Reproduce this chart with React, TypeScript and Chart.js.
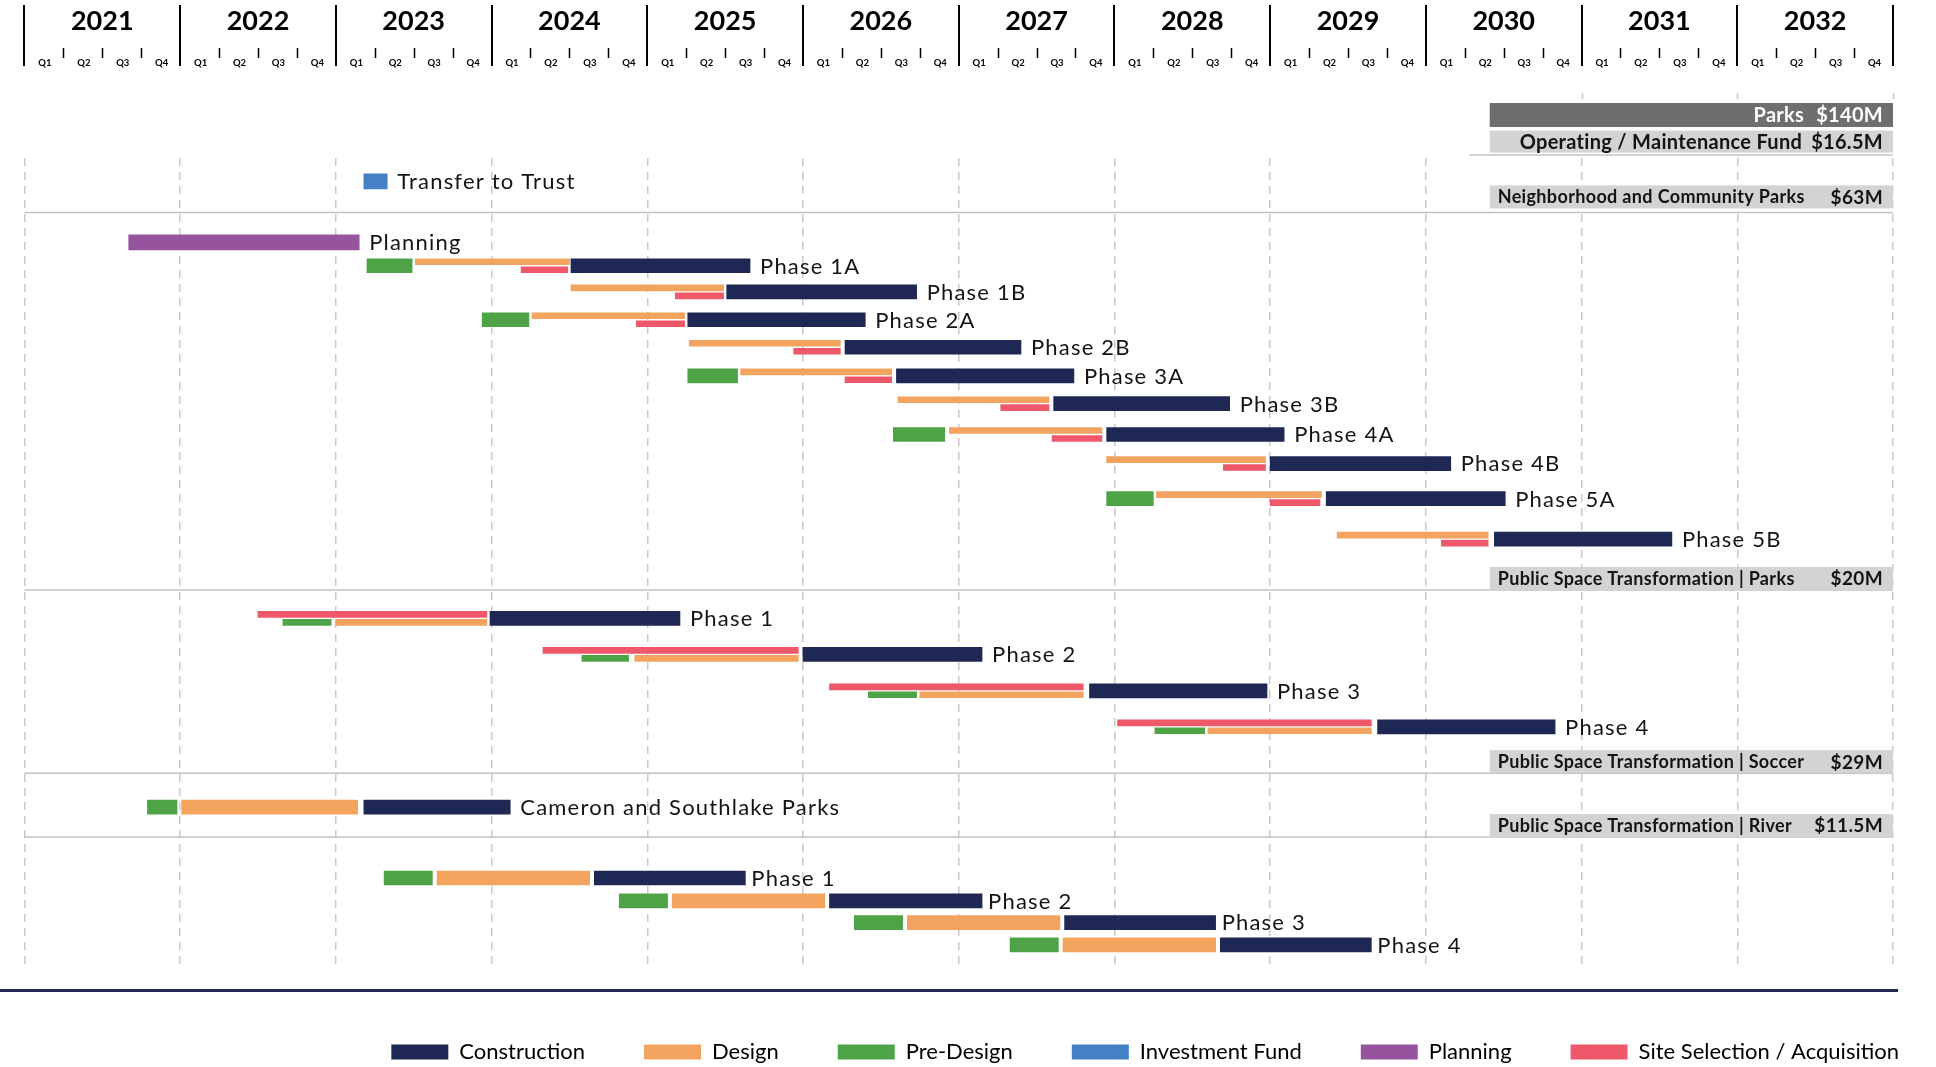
import React, { useEffect, useRef } from 'react';
import { Chart, registerables } from 'chart.js';

Chart.register(...registerables);

// ---------- tick labels ----------
const YEARS = ['2021', '2022', '2023', '2024', '2025', '2026', '2027', '2028', '2029', '2030', '2031', '2032'];
const QUARTERS = ['Q1', 'Q2', 'Q3', 'Q4'];

// ---------- rows ----------
const ROW_LABELS = [
  'Transfer to Trust', 'Planning',
  'Phase 1A', 'Phase 1B', 'Phase 2A', 'Phase 2B', 'Phase 3A', 'Phase 3B', 'Phase 4A', 'Phase 4B', 'Phase 5A', 'Phase 5B',
  'Phase 1', 'Phase 2', 'Phase 3', 'Phase 4',
  'Cameron and Southlake Parks',
  'Phase 1', 'Phase 2', 'Phase 3', 'Phase 4',
];
// row position on the vertical row scale (0 = top of timeline)
const ROW_POS = [1.04, 3.75, 4.79, 5.95, 7.19, 8.41, 9.68, 10.92, 12.29, 13.58, 15.14, 16.94, 20.46, 22.06, 23.68, 25.28, 28.85, 32.0, 33.02, 33.98, 34.97];
// N: design above / site below, P: site above / pre-design + design below, F: full height
const ROW_MODE = ['F', 'F', 'N', 'N', 'N', 'N', 'N', 'N', 'N', 'N', 'N', 'N', 'P', 'P', 'P', 'P', 'F', 'F', 'F', 'F', 'F'];

type Span = [number, number] | null;

const CONSTRUCTION: Span[] = [
  null, null,
  [2024.51, 2025.66], [2025.51, 2026.73], [2025.26, 2026.40], [2026.27, 2027.40], [2026.60, 2027.74],
  [2027.61, 2028.74], [2027.95, 2029.09], [2029.00, 2030.16], [2029.36, 2030.51], [2030.44, 2031.58],
  [2023.99, 2025.21], [2026.00, 2027.15], [2027.84, 2028.98], [2029.69, 2030.83],
  [2023.18, 2024.12],
  [2024.66, 2025.63], [2026.17, 2027.15], [2027.68, 2028.65], [2028.68, 2029.65],
];
const DESIGN: Span[] = [
  null, null,
  [2023.51, 2024.50], [2024.51, 2025.49], [2024.26, 2025.24], [2025.27, 2026.24], [2025.60, 2026.57],
  [2026.61, 2027.58], [2026.94, 2027.92], [2027.95, 2028.97], [2028.27, 2029.33], [2029.43, 2030.40],
  [2023.00, 2023.97], [2024.92, 2025.97], [2026.75, 2027.80], [2028.60, 2029.65],
  [2022.01, 2023.14],
  [2023.65, 2024.63], [2025.16, 2026.14], [2026.67, 2027.65], [2027.67, 2028.65],
];
const PRE_DESIGN: Span[] = [
  null, null,
  [2023.20, 2023.49], null, [2023.94, 2024.24], null, [2025.26, 2025.58],
  null, [2026.58, 2026.91], null, [2027.95, 2028.25], null,
  [2022.66, 2022.97], [2024.58, 2024.88], [2026.42, 2026.73], [2028.26, 2028.58],
  [2021.79, 2021.98],
  [2023.31, 2023.62], [2024.82, 2025.13], [2026.33, 2026.64], [2027.33, 2027.64],
];
const INVESTMENT_FUND: Span[] = [
  [2023.18, 2023.33], null,
  null, null, null, null, null, null, null, null, null, null,
  null, null, null, null,
  null,
  null, null, null, null,
];
const PLANNING: Span[] = [
  null, [2021.67, 2023.15],
  null, null, null, null, null, null, null, null, null, null,
  null, null, null, null,
  null,
  null, null, null, null,
];
const SITE_SELECTION: Span[] = [
  null, null,
  [2024.19, 2024.49], [2025.18, 2025.49], [2024.93, 2025.24], [2025.94, 2026.24], [2026.27, 2026.57],
  [2027.27, 2027.58], [2027.60, 2027.92], [2028.70, 2028.97], [2029.00, 2029.32], [2030.10, 2030.40],
  [2022.50, 2023.97], [2024.33, 2025.97], [2026.17, 2027.80], [2028.02, 2029.65],
  null,
  null, null, null, null,
];

// ---------- legend ----------
const LEGEND_LABELS = ['Construction', 'Design', 'Pre-Design', 'Investment Fund', 'Planning', 'Site Selection / Acquisition'];
const LEGEND_COLORS = ['#1F2755', '#F2A35E', '#4EA346', '#4480C4', '#96539E', '#EF576B'];

// ---------- budget headers ----------
const PROGRAM_TITLE = 'Parks';
const PROGRAM_BUDGET = '$140M';
const PROGRAM_POS = -1.91;
const FUND_TITLE = 'Operating / Maintenance Fund';
const FUND_BUDGET = '$16.5M';
const FUND_POS = -0.73;
const FUND_RULE_POS = -0.13;

const SECTION_TITLES = [
  'Neighborhood and Community Parks',
  'Public Space Transformation | Parks',
  'Public Space Transformation | Soccer',
  'Public Space Transformation | River',
];
const SECTION_BUDGETS = ['$63M', '$20M', '$29M', '$11.5M'];
const SECTION_BOX_POS = [1.73, 18.69, 26.83, 29.67];
const SECTION_RULE_POS = [2.42, 19.2, 27.34, 30.18];

// ---------- layout / style constants ----------
const ROW_MAX = 36;
const THIN_SHIFT = 0.1775;
const BOX_LEFT_YEAR = 2030.41;
const FUND_RULE_LEFT_YEAR = 2030.28;
const FONT = 'Lato';
const TEXT_COLOR = '#141414';

const YEAR0 = Number(YEARS[0]);

function buildDatasets() {
  const cats = [
    { data: CONSTRUCTION, color: LEGEND_COLORS[0], track: (_m: string) => 'y' },
    { data: DESIGN, color: LEGEND_COLORS[1], track: (m: string) => (m === 'N' ? 'yTop' : m === 'P' ? 'yBot' : 'y') },
    { data: PRE_DESIGN, color: LEGEND_COLORS[2], track: (m: string) => (m === 'P' ? 'yBot' : 'y') },
    { data: INVESTMENT_FUND, color: LEGEND_COLORS[3], track: (_m: string) => 'y' },
    { data: PLANNING, color: LEGEND_COLORS[4], track: (_m: string) => 'y' },
    { data: SITE_SELECTION, color: LEGEND_COLORS[5], track: (m: string) => (m === 'P' ? 'yTop' : 'yBot') },
  ];
  const sets: any[] = [];
  cats.forEach((c, ci) => {
    ['y', 'yTop', 'yBot'].forEach((axis) => {
      const pts: any[] = [];
      c.data.forEach((span, i) => {
        if (span && c.track(ROW_MODE[i]) === axis) pts.push({ x: span, y: ROW_POS[i] });
      });
      if (!pts.length) return;
      const thick = axis === 'y' ? (ci === 3 || ci === 4 ? 15 : 14) : 6;
      sets.push({
        label: LEGEND_LABELS[ci],
        data: pts,
        yAxisID: axis,
        xAxisID: 'x',
        backgroundColor: c.color,
        borderWidth: 0,
        borderSkipped: false,
        grouped: false,
        barPercentage: 1,
        categoryPercentage: 1,
        maxBarThickness: thick,
      });
    });
  });
  return sets;
}

function rowEnd(i: number) {
  let m = -Infinity;
  [CONSTRUCTION, DESIGN, PRE_DESIGN, INVESTMENT_FUND, PLANNING, SITE_SELECTION].forEach((arr) => {
    const s = arr[i];
    if (s) m = Math.max(m, s[1]);
  });
  return m;
}

function txt(ctx: CanvasRenderingContext2D, s: string, x: number, yc: number, size: number, weight: string, align: CanvasTextAlign, color: string, spacing = 0) {
  ctx.font = `${weight} ${size}px ${FONT}`;
  (ctx as any).letterSpacing = `${spacing}px`;
  ctx.textAlign = align;
  ctx.textBaseline = 'alphabetic';
  ctx.fillStyle = color;
  ctx.fillText(s, x, yc + size * 0.36);
  (ctx as any).letterSpacing = '0px';
}

function measure(ctx: CanvasRenderingContext2D, s: string, size: number, weight: string, spacing = 0) {
  ctx.font = `${weight} ${size}px ${FONT}`;
  (ctx as any).letterSpacing = `${spacing}px`;
  const w = ctx.measureText(s).width;
  (ctx as any).letterSpacing = '0px';
  return w;
}

const overlayPlugin = {
  id: 'timelineOverlay',
  afterLayout(chart: any) {
    const lg = chart.legend;
    if (lg) {
      const pad = lg.options.labels.padding;
      const fs = lg.options.labels.font.size;
      lg.left = 0;
      lg.right = 1899 + pad;
      lg.top = 1052 - fs / 2 - pad;
      lg.bottom = 1067;
      lg.width = lg.right - lg.left;
      lg.height = lg.bottom - lg.top;
    }
  },
  afterDatasetsDraw(chart: any) {
    const { ctx, chartArea, scales } = chart;
    const x = scales.x;
    const y = scales.y;
    ctx.save();

    // header: year boundaries, quarter ticks and labels
    ctx.strokeStyle = '#000';
    ctx.lineWidth = 2;
    for (let i = 0; i <= YEARS.length; i++) {
      const px = Math.round(x.getPixelForValue(YEAR0 + i));
      ctx.beginPath();
      ctx.moveTo(px, 5);
      ctx.lineTo(px, 66);
      ctx.stroke();
    }
    ctx.lineWidth = 1.5;
    for (let i = 0; i < YEARS.length; i++) {
      for (let q = 1; q < 4; q++) {
        const px = Math.round(x.getPixelForValue(YEAR0 + i + q / 4)) + 0.5;
        ctx.beginPath();
        ctx.moveTo(px, 48);
        ctx.lineTo(px, 58);
        ctx.stroke();
      }
      for (let q = 0; q < 4; q++) {
        const px = x.getPixelForValue(YEAR0 + i + (q + 0.5) / 4) + 1;
        txt(ctx, QUARTERS[q], px, 63, 9.5, 'bold', 'center', '#000');
      }
    }

    const boxL = x.getPixelForValue(BOX_LEFT_YEAR);
    const boxR = chartArea.right;

    // grid stubs visible above the budget boxes
    ctx.strokeStyle = '#C9C9C9';
    ctx.lineWidth = 1.5;
    for (let i = 0; i <= YEARS.length; i++) {
      const v = YEAR0 + i;
      if (v < BOX_LEFT_YEAR) continue;
      const px = Math.round(x.getPixelForValue(v)) + 0.5;
      ctx.beginPath();
      ctx.moveTo(px, 93);
      ctx.lineTo(px, 99);
      ctx.stroke();
    }

    // program + fund boxes
    let yc = y.getPixelForValue(PROGRAM_POS);
    ctx.fillStyle = '#6E6E6E';
    ctx.fillRect(boxL, yc - 12, boxR - boxL, 24);
    let bw = measure(ctx, PROGRAM_BUDGET, 20, 'bold', 0.3);
    txt(ctx, PROGRAM_BUDGET, boxR - 10, yc, 20, 'bold', 'right', '#fff', 0.3);
    txt(ctx, PROGRAM_TITLE, boxR - 10 - bw - 12, yc, 20, 'bold', 'right', '#fff', 0.3);

    yc = y.getPixelForValue(FUND_POS);
    ctx.fillStyle = '#D3D3D3';
    ctx.fillRect(boxL, yc - 11, boxR - boxL, 22);
    bw = measure(ctx, FUND_BUDGET, 20, 'bold', 0.3);
    txt(ctx, FUND_BUDGET, boxR - 10, yc, 20, 'bold', 'right', TEXT_COLOR, 0.3);
    txt(ctx, FUND_TITLE, boxR - 10 - bw - 9, yc, 20, 'bold', 'right', TEXT_COLOR, 0.3);

    ctx.strokeStyle = '#C2C2C2';
    ctx.lineWidth = 1.5;
    const ry = y.getPixelForValue(FUND_RULE_POS);
    ctx.beginPath();
    ctx.moveTo(x.getPixelForValue(FUND_RULE_LEFT_YEAR), ry);
    ctx.lineTo(boxR, ry);
    ctx.stroke();

    // section rules and boxes
    SECTION_TITLES.forEach((title, i) => {
      const r = y.getPixelForValue(SECTION_RULE_POS[i]);
      ctx.strokeStyle = '#C2C2C2';
      ctx.lineWidth = 1.5;
      ctx.beginPath();
      ctx.moveTo(chartArea.left, r);
      ctx.lineTo(chartArea.right, r);
      ctx.stroke();
      const c = y.getPixelForValue(SECTION_BOX_POS[i]);
      ctx.fillStyle = '#D3D3D3';
      ctx.fillRect(boxL, c - 11.5, boxR - boxL, 23);
      txt(ctx, title, boxL + 8, c, 18, 'bold', 'left', TEXT_COLOR, 0.35);
      txt(ctx, SECTION_BUDGETS[i], boxR - 10, c, 19, 'bold', 'right', TEXT_COLOR, 0.35);
    });

    // row labels
    ROW_LABELS.forEach((label, i) => {
      const gap = ROW_POS[i] > SECTION_RULE_POS[3] ? 6 : 10;
      const px = x.getPixelForValue(rowEnd(i)) + gap;
      const py = y.getPixelForValue(ROW_POS[i]);
      txt(ctx, label, px, py, 22, 'normal', 'left', TEXT_COLOR, 1.2);
    });

    // bottom rule
    ctx.strokeStyle = '#1F2755';
    ctx.lineWidth = 3;
    ctx.beginPath();
    ctx.moveTo(0, 990.5);
    ctx.lineTo(chartArea.right + 5, 990.5);
    ctx.stroke();

    ctx.restore();
  },
};

const thinScale = (min: number, max: number) => ({
  type: 'linear',
  display: false,
  reverse: true,
  offset: false,
  min,
  max,
  afterBuildTicks: (s: any) => {
    s.ticks = [{ value: s.min }, { value: s.max }];
  },
});

export default function App() {
  const ref = useRef<HTMLCanvasElement>(null);
  useEffect(() => {
    document.body.style.margin = '0';
    document.body.style.overflow = 'hidden';
    const canvas = ref.current;
    if (!canvas) return;
    const chart = new Chart(canvas, {
      type: 'bar',
      data: { datasets: buildDatasets() },
      options: {
        indexAxis: 'y',
        animation: false,
        responsive: false,
        maintainAspectRatio: false,
        events: [],
        layout: { padding: { left: 24.4, right: 43, top: 0, bottom: 8 } },
        scales: {
          x: {
            type: 'linear',
            position: 'top',
            min: YEAR0,
            max: YEAR0 + YEARS.length,
            offset: false,
            beginAtZero: false,
            afterBuildTicks: (s: any) => {
              s.ticks = YEARS.map((_, i) => ({ value: YEAR0 + i + 0.5 }));
            },
            afterFit: (s: any) => {
              s.height = 158;
              s.paddingLeft = 0;
              s.paddingRight = 0;
            },
            grid: {
              offset: true,
              drawTicks: true,
              tickLength: 121,
              tickColor: 'rgba(0,0,0,0)',
              drawOnChartArea: true,
              color: '#C9C9C9',
              lineWidth: 1.5,
            },
            border: { display: false, dash: [8, 6] },
            ticks: {
              autoSkip: false,
              maxRotation: 0,
              padding: 0,
              color: '#000',
              font: { family: FONT, size: 27, weight: 'bold' },
              callback: (_v: any, i: number) => YEARS[i],
            },
          },
          y: thinScale(0, ROW_MAX),
          yTop: thinScale(THIN_SHIFT, ROW_MAX + THIN_SHIFT),
          yBot: thinScale(-THIN_SHIFT, ROW_MAX - THIN_SHIFT),
        } as any,
        plugins: {
          tooltip: { enabled: false },
          legend: {
            position: 'bottom',
            align: 'end',
            onClick: () => {},
            labels: {
              boxWidth: 57,
              boxHeight: 15,
              padding: 59,
              color: TEXT_COLOR,
              font: { family: FONT, size: 22 },
              generateLabels: () =>
                LEGEND_LABELS.map((text, i) => ({
                  text,
                  fillStyle: LEGEND_COLORS[i],
                  strokeStyle: LEGEND_COLORS[i],
                  lineWidth: 0,
                  hidden: false,
                  datasetIndex: i,
                })),
            },
          },
        },
      } as any,
      plugins: [overlayPlugin],
    });
    return () => chart.destroy();
  }, []);
  return (
    <div style={{ width: 1936, height: 1067, position: 'relative' }}>
      <canvas ref={ref} width={1936} height={1067} style={{ display: 'block', width: 1936, height: 1067 }} />
    </div>
  );
}
